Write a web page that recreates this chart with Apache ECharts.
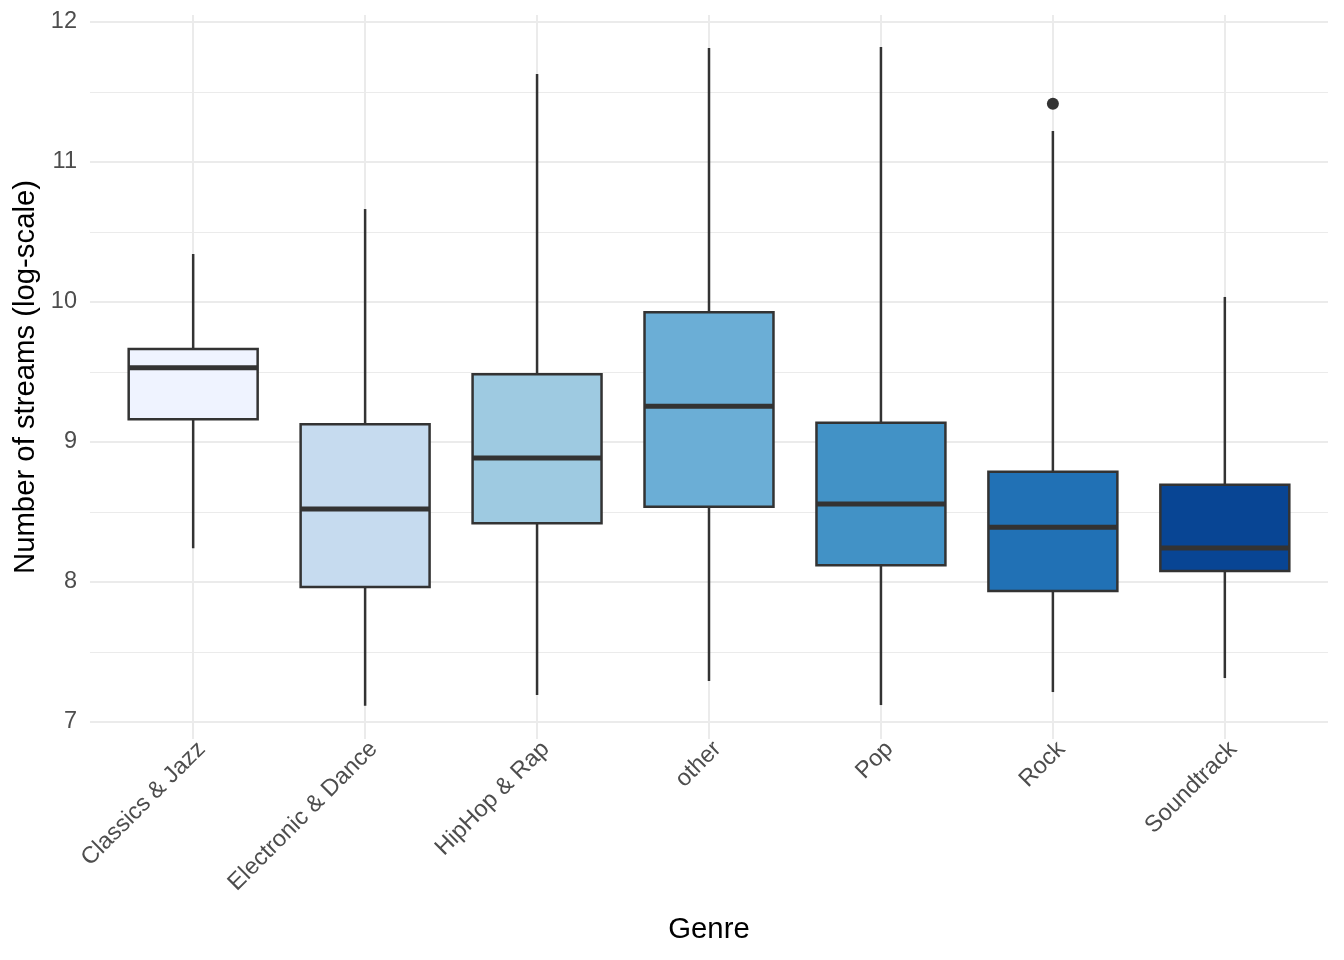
<!DOCTYPE html>
<html>
<head>
<meta charset="utf-8">
<script src="https://cdn.jsdelivr.net/npm/echarts@6/dist/echarts.min.js"></script>
<style>
html,body{margin:0;padding:0;background:#fff;}
#chart{width:1344px;height:960px;}
</style>
</head>
<body>
<div id="chart"></div>
<script>
// ---- data (log-scale stream counts) ----
const genres = ['Classics & Jazz', 'Electronic & Dance', 'HipHop & Rap', 'other', 'Pop', 'Rock', 'Soundtrack'];
const lowerWhisker = [8.241, 7.116, 7.193, 7.293, 7.121, 7.214, 7.314];
const q1Values     = [9.162, 7.964, 8.419, 8.538, 8.119, 7.936, 8.079];
const medianValues = [9.531, 8.521, 8.886, 9.255, 8.557, 8.391, 8.243];
const q3Values     = [9.664, 9.126, 9.484, 9.926, 9.138, 8.788, 8.695];
const upperWhisker = [10.343, 10.664, 11.629, 11.814, 11.821, 11.221, 10.036];
const outlierGenre = ['Rock'];
const outlierValue = [11.416];
const yTicks = [7, 8, 9, 10, 11, 12];

// ---- styles ----
const fills = ['#EFF3FF', '#C6DBEF', '#9ECAE1', '#6BAED6', '#4292C6', '#2171B5', '#084594'];
const FONT = '"Liberation Sans", Arial, Helvetica, sans-serif';

const boxData = genres.map((g, i) => [i, lowerWhisker[i], q1Values[i], medianValues[i], q3Values[i], upperWhisker[i]]);
const outlierData = outlierGenre.map((g, i) => [genres.indexOf(g), outlierValue[i]]);
const catIdx = genres.map((g, i) => i);

const chart = echarts.init(document.getElementById('chart'), null, {renderer: 'canvas'});
chart.setOption({
  backgroundColor: '#ffffff',
  animation: false,
  textStyle: {fontFamily: FONT},
  grid: {left: 90, right: 16, top: 22, bottom: 238, containLabel: false},
  xAxis: {
    type: 'value',
    min: -0.6,
    max: 6.6,
    offset: 17,
    axisLine: {show: false},
    splitLine: {show: false},
    axisTick: {
      show: true, inside: true, length: 724, customValues: catIdx,
      lineStyle: {color: '#EBEBEB', width: 2}
    },
    axisLabel: {
      customValues: catIdx,
      formatter: v => genres[Math.round(v)],
      rotate: 45, align: 'right', verticalAlign: 'top',
      margin: -2, fontSize: 23.5, color: '#4D4D4D', fontFamily: FONT
    },
    name: 'Genre',
    nameLocation: 'middle',
    nameGap: 176,
    nameTextStyle: {fontSize: 29.3, color: '#000', fontFamily: FONT}
  },
  yAxis: {
    type: 'value',
    min: yTicks[0],
    max: yTicks[yTicks.length - 1],
    interval: 1,
    axisLine: {show: false},
    axisTick: {show: false},
    splitLine: {show: true, lineStyle: {color: '#EBEBEB', width: 2}},
    minorTick: {show: false, splitNumber: 2},
    minorSplitLine: {show: true, lineStyle: {color: '#EBEBEB', width: 1.2}},
    axisLabel: {fontSize: 23.5, color: '#4D4D4D', margin: 13, fontFamily: FONT},
    name: 'Number of streams (log-scale)',
    nameLocation: 'middle',
    nameGap: 47,
    nameTextStyle: {fontSize: 29.3, color: '#000', fontFamily: FONT, padding: [0, 10, 0, 0]}
  },
  series: [
    {
      type: 'custom',
      z: 2,
      data: boxData,
      encode: {x: 0, y: [1, 2, 3, 4, 5]},
      renderItem: function (params, api) {
        const x = api.value(0);
        const lo = api.coord([x, api.value(1)]);
        const q1 = api.coord([x, api.value(2)]);
        const md = api.coord([x, api.value(3)]);
        const q3 = api.coord([x, api.value(4)]);
        const hi = api.coord([x, api.value(5)]);
        const hw = api.size([0.75, 0])[0] / 2;
        const stroke = '#333333';
        return {
          type: 'group',
          children: [
            {type: 'line', shape: {x1: lo[0], y1: lo[1], x2: q1[0], y2: q1[1]}, style: {stroke: stroke, lineWidth: 2.5}},
            {type: 'line', shape: {x1: q3[0], y1: q3[1], x2: hi[0], y2: hi[1]}, style: {stroke: stroke, lineWidth: 2.5}},
            {type: 'rect', shape: {x: q3[0] - hw, y: q3[1], width: hw * 2, height: q1[1] - q3[1]},
             style: {fill: fills[params.dataIndex], stroke: stroke, lineWidth: 2.5}},
            {type: 'line', shape: {x1: md[0] - hw, y1: md[1], x2: md[0] + hw, y2: md[1]}, style: {stroke: stroke, lineWidth: 5}}
          ]
        };
      }
    },
    {
      type: 'scatter',
      z: 3,
      data: outlierData,
      symbol: 'circle',
      symbolSize: 12,
      itemStyle: {color: '#333333', opacity: 1}
    }
  ]
});
</script>
</body>
</html>
